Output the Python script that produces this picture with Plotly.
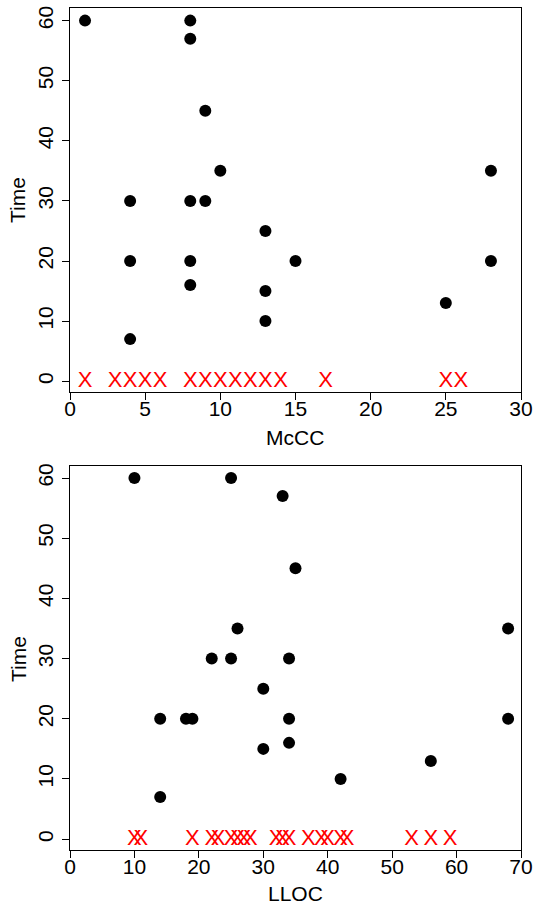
import plotly.graph_objects as go
from plotly.subplots import make_subplots

# Top panel: McCC vs Time
mccc_done = [1, 8, 8, 9, 10, 28, 4, 8, 9, 13, 4, 8, 15, 28, 8, 13, 25, 13, 4]
time_mccc = [60, 60, 57, 45, 35, 35, 30, 30, 30, 25, 20, 20, 20, 20, 16, 15, 13, 10, 7]
mccc_fail = [1, 3, 4, 5, 6, 8, 9, 10, 11, 12, 13, 14, 17, 25, 26]

# Bottom panel: LLOC vs Time
lloc_done = [10, 25, 33, 35, 26, 68, 22, 25, 34, 30, 14, 18, 19, 34, 68, 30, 34, 56, 42, 14]
time_lloc = [60, 60, 57, 45, 35, 35, 30, 30, 30, 25, 20, 20, 20, 20, 20, 15, 16, 13, 10, 7]
lloc_fail = [10, 11, 19, 22, 23, 25, 26, 27, 28, 32, 33, 34, 37, 39, 40, 42, 43, 53, 56, 59]

y_ticks = [0, 10, 20, 30, 40, 50, 60]
x_ticks_top = [0, 5, 10, 15, 20, 25, 30]
x_ticks_bot = [0, 10, 20, 30, 40, 50, 60, 70]

FONT = "Liberation Sans, Arial, sans-serif"

fig = make_subplots(rows=2, cols=1, vertical_spacing=0.0)

def add_panel(row, xd, yd, xf):
    fig.add_trace(go.Scatter(x=xd, y=yd, mode="markers",
                             marker=dict(color="black", size=12, line=dict(width=0)),
                             showlegend=False, hoverinfo="skip"), row=row, col=1)
    fig.add_trace(go.Scatter(x=xf, y=[0] * len(xf), mode="text", text=["X"] * len(xf),
                             textposition="middle center",
                             textfont=dict(color="red", size=22, family=FONT),
                             showlegend=False, hoverinfo="skip"), row=row, col=1)

add_panel(1, mccc_done, time_mccc, mccc_fail)
add_panel(2, lloc_done, time_lloc, lloc_fail)

axis_common = dict(showgrid=False, zeroline=False, showline=True, mirror=True,
                   linecolor="black", linewidth=1.3, ticks="outside", ticklen=7,
                   tickwidth=1.3, tickcolor="black", automargin=False,
                   tickfont=dict(family=FONT, size=21, color="black"))

H = 907
top_px, bot_px = 8, 850
span = bot_px - top_px
def frac(y):
    return (bot_px - y) / span

fig.update_layout(
    width=536, height=907,
    margin=dict(l=70, r=15, t=top_px, b=H - bot_px),
    paper_bgcolor="white", plot_bgcolor="white",
    font=dict(family=FONT, color="black"),
    xaxis=dict(axis_common, range=[0, 30], tickvals=x_ticks_top, domain=[0, 1],
               ticklabelstandoff=-9),
    yaxis=dict(axis_common, range=[-1.8, 62.1], tickvals=y_ticks, tickangle=-90,
               domain=[frac(392), 1.0]),
    xaxis2=dict(axis_common, range=[0, 70], tickvals=x_ticks_bot, domain=[0, 1],
                ticklabelstandoff=-9),
    yaxis2=dict(axis_common, range=[-1.8, 62.0], tickvals=y_ticks, tickangle=-90,
                domain=[0.0, frac(466)]),
)

ann_font = dict(family=FONT, size=21, color="black")
annos = [
    dict(text="McCC", x=295, y=437, angle=0),
    dict(text="LLOC", x=295, y=893, angle=0),
    dict(text="Time", x=18, y=200, angle=-90),
    dict(text="Time", x=18, y=659, angle=-90),
]
for a in annos:
    fig.add_annotation(text=a["text"], textangle=a["angle"],
                       x=(a["x"] - 70) / (536 - 70 - 15), xref="paper",
                       y=frac(a["y"]), yref="paper",
                       xanchor="center", yanchor="middle",
                       showarrow=False, font=ann_font)

fig.write_html("out.html")
